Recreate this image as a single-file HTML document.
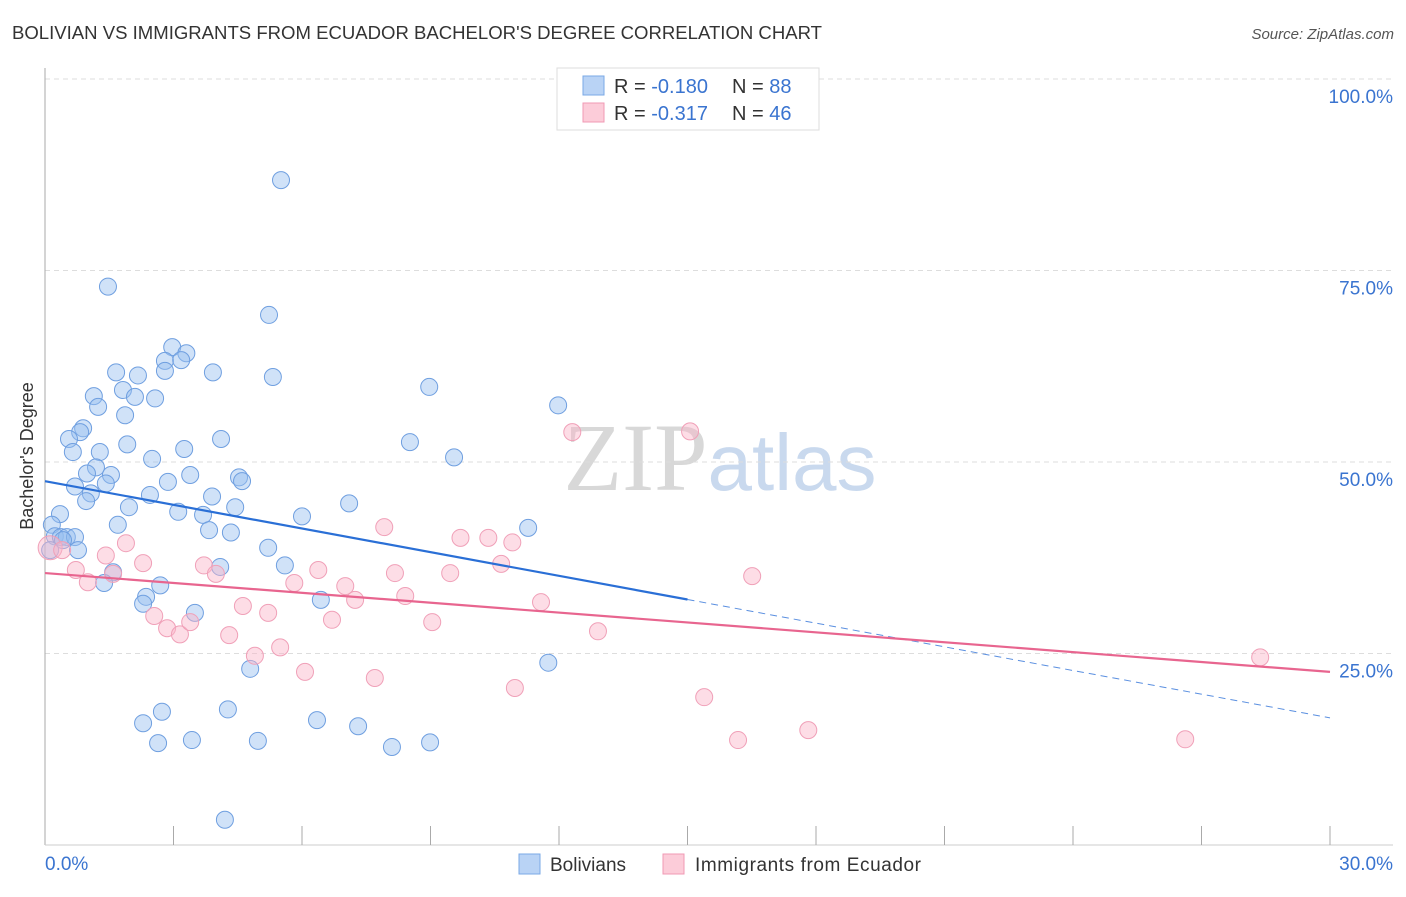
<!DOCTYPE html>
<html><head><meta charset="utf-8"><style>
body{margin:0;background:#fff;font-family:"Liberation Sans",sans-serif}
svg text{font-family:"Liberation Sans",sans-serif}
</style></head><body>
<svg id="chart" width="1406" height="892" xmlns="http://www.w3.org/2000/svg">
<text x="12" y="39" font-size="18" fill="#333" textLength="810" lengthAdjust="spacingAndGlyphs">BOLIVIAN VS IMMIGRANTS FROM ECUADOR BACHELOR'S DEGREE CORRELATION CHART</text>
<text x="1394" y="39" font-size="15" fill="#555" font-style="italic" text-anchor="end">Source: ZipAtlas.com</text>
<text x="720" y="490" font-size="96" text-anchor="middle" fill="#ddd" font-family="Liberation Serif"><tspan fill="#d8d8d8" font-family="Liberation Serif">ZIP</tspan><tspan fill="#c9d9ee" font-family="Liberation Sans" font-size="80">atlas</tspan></text>
<g id="grid"></g>
<g id="axes"></g>
<g id="pts"></g>
<g id="lines"></g>
<text transform="translate(33,456) rotate(-90)" font-size="18" fill="#333" text-anchor="middle">Bachelor's Degree</text>
<g>
<rect x="557" y="68" width="262" height="62" fill="#fff" stroke="#ddd"/>
<rect x="583" y="76" width="21" height="19" fill="#b9d3f5" stroke="#7aa8e6"/>
<rect x="583" y="103" width="21" height="19" fill="#fcccd9" stroke="#f09ab4"/>
<text x="614" y="93" font-size="20" fill="#333">R = <tspan fill="#3a74d0">-0.180</tspan><tspan x="732">N = </tspan><tspan fill="#3a74d0">88</tspan></text>
<text x="614" y="120" font-size="20" fill="#333">R = <tspan fill="#3a74d0"> -0.317</tspan><tspan x="732">N = </tspan><tspan fill="#3a74d0">46</tspan></text>
</g>
<g>
<rect x="519" y="854" width="21" height="20" fill="#b9d3f5" stroke="#7aa8e6"/>
<text x="550" y="871" font-size="19" fill="#333">Bolivians</text>
<rect x="663" y="854" width="21" height="20" fill="#fcccd9" stroke="#f09ab4"/>
<text x="695" y="871" font-size="19" fill="#333" textLength="226">Immigrants from Ecuador</text>
</g>
</svg>
<script>
const yTicks=[25,50,75,100];
const yTickLabels=["25.0%","50.0%","75.0%","100.0%"];
const xTickLabels=["0.0%","30.0%"];
const blueX=[5.51,1.47,5.23,2.97,3.30,2.80,3.18,1.66,2.17,2.80,3.92,5.32,1.82,2.10,2.57,1.14,1.24,8.97,11.98,1.87,0.89,0.82,0.56,1.92,4.11,8.52,3.25,0.65,1.28,2.50,9.55,1.19,0.98,1.54,3.39,4.53,4.60,0.70,1.42,2.87,1.07,2.45,3.90,0.96,7.10,1.96,4.44,0.35,3.11,3.69,6.00,0.16,1.70,11.28,3.83,4.34,0.23,0.37,0.51,0.70,0.42,0.12,0.77,5.21,5.60,4.09,1.59,1.38,2.69,2.36,2.29,6.44,3.50,4.79,11.75,2.29,2.73,4.27,6.35,7.31,2.64,3.43,4.97,8.10,8.99,4.20];
const blueY=[86.8,72.9,69.2,65.0,64.2,63.2,63.3,61.7,61.3,61.9,61.7,61.1,59.4,58.5,58.3,58.6,57.2,59.8,57.4,56.1,54.4,53.9,53.0,52.3,53.0,52.6,51.7,51.3,51.3,50.4,50.6,49.3,48.5,48.3,48.3,48.0,47.5,46.8,47.2,47.4,45.9,45.7,45.5,44.9,44.6,44.1,44.1,43.2,43.5,43.1,42.9,41.8,41.8,41.4,41.1,40.8,40.3,40.2,40.2,40.2,39.8,38.5,38.5,38.8,36.5,36.3,35.6,34.2,33.9,32.4,31.5,32.0,30.3,23.0,23.8,15.9,17.4,17.7,16.3,15.5,13.3,13.7,13.6,12.8,13.4,3.3];
const pinkX=[0.12,0.40,1.42,1.89,2.29,0.72,1.00,1.59,3.71,3.99,2.55,2.85,3.15,3.39,4.62,5.21,4.30,4.90,5.49,5.82,6.38,7.01,7.24,6.70,6.07,7.92,8.17,8.41,9.04,9.46,9.70,10.35,10.91,10.65,11.58,12.91,12.31,15.06,7.70,10.97,15.39,16.51,16.18,17.82,28.37,26.62];
const pinkY=[38.8,38.5,37.8,39.4,36.8,35.9,34.3,35.4,36.5,35.4,29.9,28.3,27.5,29.1,31.2,30.3,27.4,24.7,25.8,34.2,35.9,33.8,32.0,29.4,22.6,41.5,35.5,32.5,29.1,35.5,40.1,40.1,39.5,36.7,31.7,27.9,53.9,54.0,21.8,20.5,19.3,35.1,13.7,15.0,24.5,13.8];
const blueTrend=[47.5,16.6], blueSolidEnd=15.0;
const pinkTrend=[35.5,22.6];
const X=v=>45+v/30*1285, Y=v=>845-v/100*766;
const NS="http://www.w3.org/2000/svg";
function mk(tag,attrs,parent){const e=document.createElementNS(NS,tag);for(const k in attrs)e.setAttribute(k,attrs[k]);document.getElementById(parent).appendChild(e);return e;}
yTicks.forEach((t,i)=>{
  const g=mk('line',{x1:45,x2:1393,y1:Y(t),y2:Y(t),stroke:'#ddd','stroke-dasharray':'5,4'},'grid');
  
  
  const tx=mk('text',{x:1393,y:Y(t)+24,'font-size':19,fill:'#3a74d0','text-anchor':'end'},'grid');
  tx.textContent=yTickLabels[i];
  
  
});
let a=mk('line',{x1:45,x2:45,y1:68,y2:845,stroke:'#aaa'},'axes');


a=mk('line',{x1:45,x2:1393,y1:845,y2:845,stroke:'#ccc'},'axes');


for(let i=1;i<=10;i++){const t=mk('line',{x1:X(i*3),x2:X(i*3),y1:826,y2:845,stroke:'#aaa'},'axes');
  
  }
[[0,'start',45],[30,'end',1393]].forEach(([v,an,px],i)=>{const t=mk('text',{x:px,y:870,'font-size':19,fill:'#3a74d0','text-anchor':an},'axes');t.textContent=xTickLabels[i];
  
  });
blueX.forEach((x,i)=>{const c=mk('circle',{cx:X(x),cy:Y(blueY[i]),r:8.5,fill:'rgba(150,190,240,0.45)',stroke:'#6f9fe0','stroke-width':1},'pts');
  
  });
pinkX.forEach((x,i)=>{const c=mk('circle',{cx:X(x),cy:Y(pinkY[i]),r:i==0?12:8.5,fill:'rgba(250,180,200,0.45)',stroke:'#f0a0b8','stroke-width':1},'pts');
  
  });
const by=x=>blueTrend[0]+(blueTrend[1]-blueTrend[0])*x/30;
let l=mk('line',{x1:X(0),y1:Y(by(0)),x2:X(blueSolidEnd),y2:Y(by(blueSolidEnd)),stroke:'#2a6fd6','stroke-width':2.2},'lines');


l=mk('line',{x1:X(blueSolidEnd),y1:Y(by(blueSolidEnd)),x2:X(30),y2:Y(by(30)),stroke:'#5a8fe0','stroke-width':1,'stroke-dasharray':'7,5'},'lines');


l=mk('line',{x1:X(0),y1:Y(pinkTrend[0]),x2:X(30),y2:Y(pinkTrend[1]),stroke:'#e8658f','stroke-width':2.2},'lines');


</script>
</body></html>
